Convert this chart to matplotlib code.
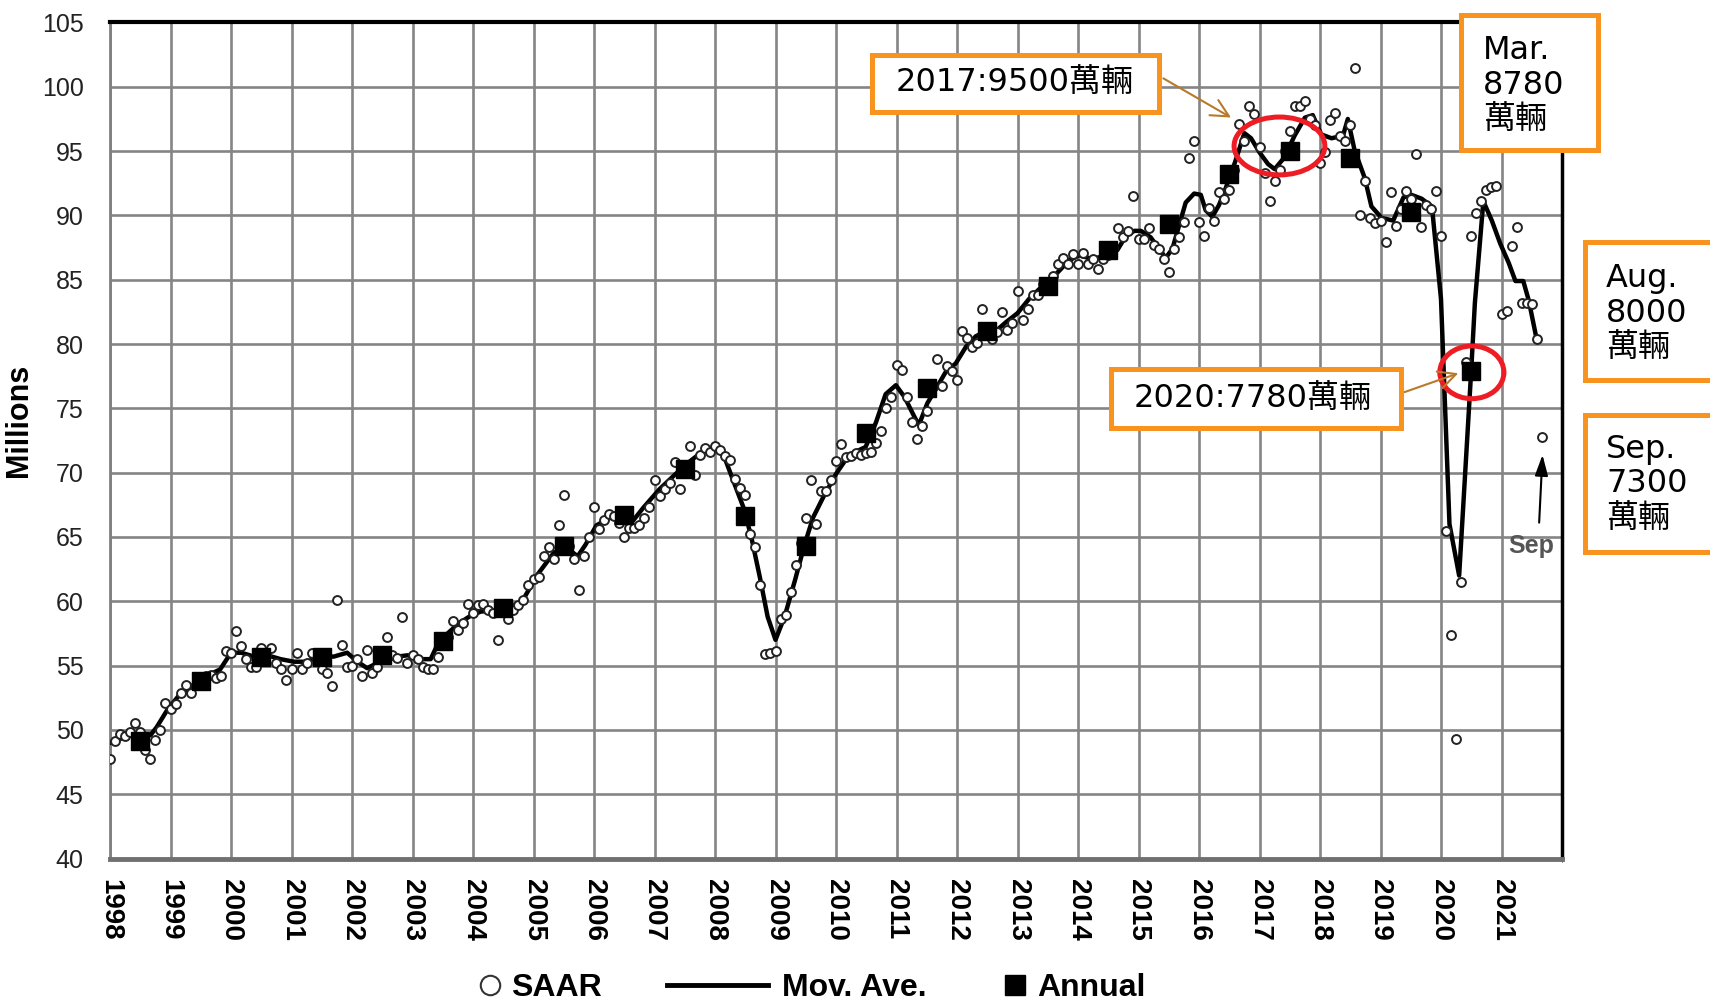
import matplotlib.pyplot as plt
from matplotlib.lines import Line2D
from matplotlib.patches import Ellipse, Rectangle

plt.rcParams['font.family'] = ['Liberation Sans Narrow', 'Liberation Sans', 'DejaVu Sans']

# monthly SAAR, millions of vehicles (Jan..Dec, one row per year)
saar = [
    47.7, 49.1, 49.7, 49.5, 49.8, 50.5, 49.8, 48.4, 47.7, 49.2, 50.0, 52.1,  # 1998
    51.6, 52.0, 52.9, 53.5, 52.9, 53.5, 53.9, 54.2, 54.3, 54.0, 54.2, 56.1,  # 1999
    56.0, 57.7, 56.5, 55.5, 54.9, 54.9, 56.4, 55.8, 56.4, 55.2, 54.7, 53.9,  # 2000
    54.7, 56.0, 54.7, 55.2, 56.0, 55.5, 54.7, 54.4, 53.4, 60.1, 56.6, 54.9,  # 2001
    55.0, 55.5, 54.2, 56.2, 54.4, 54.9, 55.5, 57.2, 55.8, 55.6, 58.8, 55.2,  # 2002
    55.8, 55.5, 54.9, 54.7, 54.7, 55.7, 56.7, 57.2, 58.5, 57.8, 58.3, 59.8,  # 2003
    59.1, 59.7, 59.8, 59.3, 59.1, 57.0, 59.5, 58.6, 59.3, 59.7, 60.1, 61.3,  # 2004
    61.7, 61.9, 63.5, 64.2, 63.3, 65.9, 68.3, 64.3, 63.3, 60.9, 63.5, 65.0,  # 2005
    67.3, 65.6, 66.3, 66.8, 66.6, 66.1, 65.0, 65.7, 65.7, 65.9, 66.5, 67.3,  # 2006
    69.4, 68.2, 68.7, 69.2, 70.8, 68.7, 70.3, 72.1, 69.8, 71.4, 71.9, 71.6,  # 2007
    72.1, 71.8, 71.3, 71.0, 69.5, 68.8, 68.3, 65.2, 64.2, 61.3, 55.9, 56.0,  # 2008
    56.1, 58.6, 58.9, 60.7, 62.8, 64.5, 66.5, 69.4, 66.0, 68.6, 68.6, 69.4,  # 2009
    70.9, 72.2, 71.2, 71.3, 71.5, 71.4, 71.5, 71.6, 72.3, 73.2, 75.0, 75.9,  # 2010
    78.4, 78.0, 75.9, 73.9, 72.6, 73.6, 74.8, 76.6, 78.8, 76.7, 78.3, 77.9,  # 2011
    77.2, 81.0, 80.5, 79.8, 80.1, 82.7, 81.1, 80.4, 80.9, 82.5, 81.1, 81.6,  # 2012
    84.1, 81.9, 82.7, 83.8, 83.8, 84.7, 84.8, 85.3, 86.2, 86.7, 86.2, 87.0,  # 2013
    86.2, 87.1, 86.2, 86.6, 85.8, 86.6, 86.9, 87.5, 89.0, 88.3, 88.8, 91.5,  # 2014
    88.2, 88.2, 89.0, 87.7, 87.4, 86.6, 85.6, 87.4, 88.3, 89.5, 94.5, 95.8,  # 2015
    89.5, 88.4, 90.6, 89.6, 91.8, 91.3, 92.0, 93.5, 97.1, 95.8, 98.5, 97.9,  # 2016
    95.3, 93.3, 91.1, 92.7, 93.5, 95.0, 96.6, 98.5, 98.5, 98.9, 97.5, 97.0,  # 2017
    94.1, 94.9, 97.4, 98.0, 96.2, 95.8, 97.0, 101.5, 90.0, 92.7, 89.8, 89.4,  # 2018
    89.6, 87.9, 91.8, 89.2, 90.5, 91.9, 91.3, 94.8, 89.1, 90.8, 90.5, 91.9,  # 2019
    88.4, 65.5, 57.4, 49.3, 61.5, 78.6, 88.4, 90.2, 91.1, 92.0, 92.2, 92.3,  # 2020
    82.3, 82.6, 87.6, 89.1, 83.2, 83.2, 83.1, 80.4, 72.8,                    # 2021
]
saar_dates = [1998 + i / 12 for i in range(len(saar))]

# moving average
ma_dates = [
    1998.00, 1998.17, 1998.33, 1998.50, 1998.67, 1998.77, 1998.94, 1999.16, 1999.38,
    1999.60, 1999.82, 2000.00, 2000.17, 2000.38, 2000.60, 2000.82, 2001.04, 2001.25,
    2001.48, 2001.70, 2001.92, 2002.09, 2002.25, 2002.42, 2002.59, 2002.75, 2002.92,
    2003.14, 2003.30, 2003.40, 2003.58, 2003.77, 2003.97, 2004.13, 2004.47, 2004.80,
    2005.07, 2005.34, 2005.56, 2005.73, 2005.86, 2006.04, 2006.27, 2006.41, 2006.60,
    2006.82, 2007.08, 2007.35, 2007.59, 2007.81, 2007.97, 2008.14, 2008.30, 2008.47,
    2008.60, 2008.74, 2008.87, 2009.00, 2009.15, 2009.32, 2009.48, 2009.62, 2009.79,
    2010.00, 2010.16, 2010.27, 2010.49, 2010.66, 2010.82, 2010.99, 2011.13, 2011.29,
    2011.37, 2011.51, 2011.65, 2011.81, 2011.98, 2012.15, 2012.31, 2012.48, 2012.64,
    2012.81, 2013.00, 2013.19, 2013.41, 2013.63, 2013.85, 2014.02, 2014.24, 2014.46,
    2014.65, 2014.79, 2014.93, 2015.04, 2015.20, 2015.34, 2015.45, 2015.56, 2015.67,
    2015.78, 2015.92, 2016.03, 2016.11, 2016.22, 2016.33, 2016.44, 2016.60, 2016.75,
    2016.86, 2017.00, 2017.14, 2017.25, 2017.41, 2017.58, 2017.75, 2017.88, 2018.02,
    2018.19, 2018.38, 2018.46, 2018.57, 2018.74, 2018.85, 2019.02, 2019.21, 2019.38,
    2019.51, 2019.68, 2019.85, 2020.00, 2020.14, 2020.30, 2020.50, 2020.56, 2020.70,
    2020.84, 2020.98, 2021.12, 2021.23, 2021.36, 2021.45, 2021.58,
]
ma_values = [
    49.0, 49.3, 49.6, 49.3, 49.6, 50.2, 51.5, 52.8, 53.5,
    54.2, 54.7, 56.0, 56.0, 55.7, 55.8, 55.5, 55.3, 55.3,
    55.7, 55.7, 56.0, 55.3, 54.8, 55.2, 55.8, 55.7, 55.8,
    55.5, 55.5, 56.5, 57.5, 58.3, 58.9, 59.2, 59.3, 59.9,
    62.1, 63.8, 64.1, 63.5, 64.4, 65.9, 66.5, 66.3, 66.0,
    67.3, 68.7, 69.9, 70.9, 71.7, 71.9, 71.4, 69.4, 67.3,
    65.0, 61.9, 58.8, 57.0, 58.8, 61.6, 64.4, 66.5, 68.1,
    69.9, 71.0, 71.5, 72.0, 73.9, 76.1, 76.8, 75.9, 74.4,
    73.7, 75.4, 76.5, 77.8, 78.5, 79.8, 80.6, 81.0, 81.0,
    81.7, 82.4, 83.5, 84.5, 85.4, 86.5, 86.9, 86.6, 86.9,
    87.3, 88.4, 88.8, 88.8, 88.3, 87.4, 86.7, 87.4, 89.2,
    91.0, 91.7, 91.6, 90.4, 89.9, 90.8, 92.1, 94.2, 96.4,
    96.0, 94.9, 94.0, 93.6, 94.5, 96.2, 97.6, 97.8, 96.3,
    96.0, 96.2, 97.5, 95.1, 92.9, 90.7, 89.8, 89.6, 91.4,
    91.6, 91.3, 90.7, 83.5, 66.0, 62.0, 78.0, 83.2, 91.1,
    89.6, 87.8, 86.3, 84.9, 84.9, 83.4, 80.4,
]

# annual totals, plotted mid-year
annual_years = list(range(1998, 2021))
annual_values = [49.1, 53.8, 55.7, 55.7, 55.8, 56.9, 59.5, 64.3, 66.7, 70.3, 66.6, 64.3,
                 73.1, 76.6, 81.0, 84.5, 87.3, 89.3, 93.2, 95.0, 94.5, 90.3, 77.9]

year_ticks = list(range(1998, 2022))
y_ticks = list(range(40, 106, 5))

ORANGE = '#F7931E'
ARROW = '#B9792A'
RED = '#EE1C24'
W, H = 1710, 1007


def fx(px):
    return px / W


def fy(py):
    return 1 - py / H


fig = plt.figure(figsize=(17.1, 10.07), dpi=100)
ax = fig.add_axes([fx(110), fy(858.5), (1562 - 110) / W, (858.5 - 22.5) / H])

ax.plot(ma_dates, ma_values, color='black', lw=3.2, zorder=3)
ax.plot(saar_dates, saar, ls='none', marker='o', ms=6.4, mfc='white', mec='#222222',
        mew=1.4, zorder=4)
ax.plot([y + 0.5 for y in annual_years], annual_values, ls='none', marker='s', ms=12.5,
        color='black', zorder=5)

ax.set_xlim(1998, 2022)
ax.set_ylim(40, 105)
ax.set_xticks(year_ticks)
ax.set_xticklabels([str(y) for y in year_ticks], rotation=-90, fontsize=20,
                   fontweight='bold')
ax.set_yticks(y_ticks)
ax.tick_params(axis='y', labelsize=18, pad=19, length=0, labelcolor='#222222')
ax.tick_params(axis='x', pad=15, length=0)
ax.set_xticks([2022], minor=True)
ax.grid(True, which='both', color='#858585', lw=1.9)
ax.set_axisbelow(True)

ax.spines['top'].set_color('black')
ax.spines['top'].set_linewidth(3)
ax.spines['right'].set_color('black')
ax.spines['right'].set_linewidth(2.5)
ax.spines['left'].set_color('#808080')
ax.spines['left'].set_linewidth(2)
ax.spines['bottom'].set_color('#707070')
ax.spines['bottom'].set_linewidth(3.5)

ax.set_ylabel('Millions', fontsize=22, fontweight='bold')
ax.yaxis.set_label_coords(-0.052, 0.5245)

# red ellipses
ax.add_patch(Ellipse((2017.33, 95.4), 1.5, 4.5, fill=False, ec=RED, lw=3.6, zorder=6))
ax.add_patch(Ellipse((2020.51, 77.8), 1.06, 4.1, fill=False, ec=RED, lw=3.6, zorder=6))

# Sep marker
ax.text(2021.49, 64.3, 'Sep', fontsize=18, fontweight='bold', color='#555555',
        ha='center', va='center', zorder=6)
ax.annotate('', xy=(2021.68, 71.6), xytext=(2021.62, 65.9),
            arrowprops=dict(arrowstyle='-|>,head_length=0.7,head_width=0.22',
                            color='black', lw=1.5, mutation_scale=18))

# orange callout boxes
box_font = ['DejaVu Sans', 'Noto Sans CJK TC']
boxes = [
    ((872, 55, 1159, 112), (896, 83), '2017:9500萬輛'),
    ((1461, 15, 1598, 150), (1483, 85), 'Mar.\n8780\n萬輛'),
    ((1585, 242, 1725, 380), (1606, 313), 'Aug.\n8000\n萬輛'),
    ((1585, 415, 1725, 552), (1606, 484), 'Sep.\n7300\n萬輛'),
    ((1111, 369, 1401, 428), (1134, 398), '2020:7780萬輛'),
]
for (x0, y0, x1, y1), (tx, ty), txt in boxes:
    fig.add_artist(Rectangle((fx(x0), fy(y1)), (x1 - x0) / W, (y1 - y0) / H,
                             transform=fig.transFigure, fc='white', ec=ORANGE,
                             lw=3.6, zorder=10))
    fig.text(fx(tx), fy(ty), txt, ha='left', va='center', fontsize=23,
             family=box_font, linespacing=1.16, zorder=11)

arrow_style = dict(arrowstyle='->,head_length=0.7,head_width=0.35', color=ARROW,
                   lw=1.5, mutation_scale=18)
ax.annotate('', xy=(2016.57, 97.5), xytext=(fx(1161), fy(77)),
            textcoords='figure fraction', arrowprops=arrow_style, zorder=12)
ax.annotate('', xy=(2020.33, 77.8), xytext=(fx(1402), fy(393)),
            textcoords='figure fraction', arrowprops=arrow_style, zorder=12)

# legend at the bottom
leg_font = dict(size=23, weight='bold')
leg_y = fy(988)
items = [
    (Line2D([], [], ls='none', marker='o', ms=14, mfc='white', mec='#333333', mew=1.5),
     'SAAR', 474, 1.0, 0.15),
    (Line2D([], [], color='black', lw=3.5), 'Mov. Ave.', 667, 3.15, 0.45),
    (Line2D([], [], ls='none', marker='s', ms=14, color='black'),
     'Annual', 999, 1.0, 0.2),
]
for handle, label, left, hlen, hpad in items:
    fig.legend([handle], [label], loc='center left', bbox_to_anchor=(fx(left), leg_y),
               frameon=False, prop=leg_font, handlelength=hlen, handletextpad=hpad,
               borderpad=0, borderaxespad=0)

fig.savefig('out.png', dpi=100, facecolor='white')
